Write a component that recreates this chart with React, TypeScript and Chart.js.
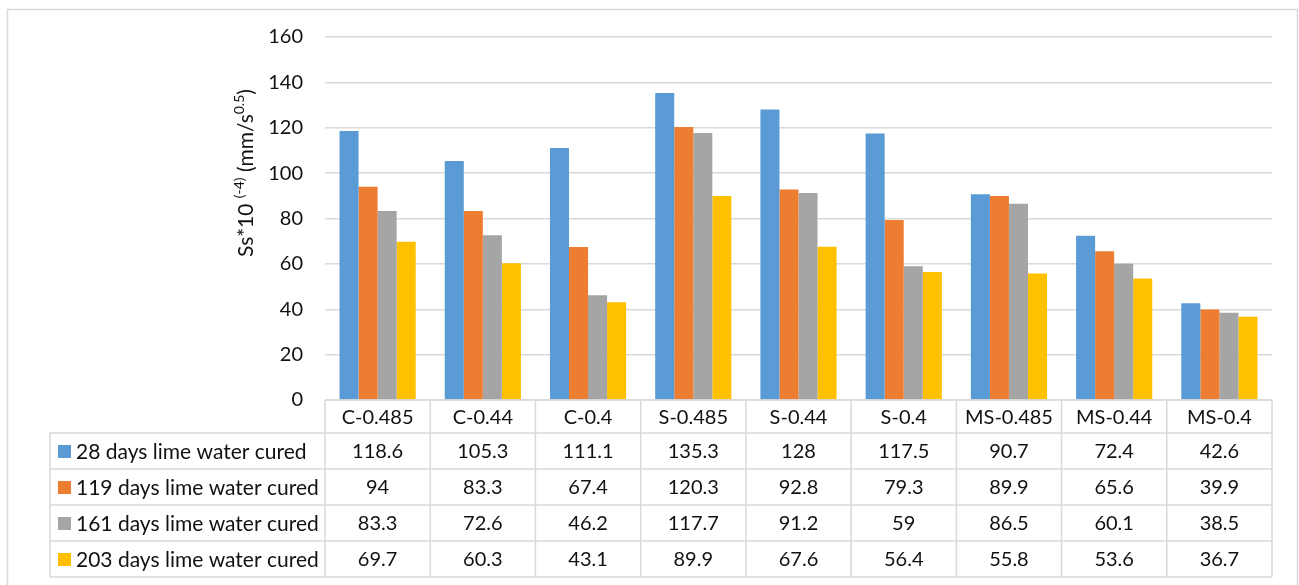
import React, { useEffect, useRef } from "react";
import { Chart, registerables } from "chart.js";

Chart.register(...registerables);

const categories = ["C-0.485", "C-0.44", "C-0.4", "S-0.485", "S-0.44", "S-0.4", "MS-0.485", "MS-0.44", "MS-0.4"];
const seriesNames = [
  "28 days lime water cured",
  "119 days lime water cured",
  "161 days lime water cured",
  "203 days lime water cured",
];
const days28 = [118.6, 105.3, 111.1, 135.3, 128, 117.5, 90.7, 72.4, 42.6];
const days119 = [94, 83.3, 67.4, 120.3, 92.8, 79.3, 89.9, 65.6, 39.9];
const days161 = [83.3, 72.6, 46.2, 117.7, 91.2, 59, 86.5, 60.1, 38.5];
const days203 = [69.7, 60.3, 43.1, 89.9, 67.6, 56.4, 55.8, 53.6, 36.7];
const seriesColors = ["#5B9BD5", "#ED7D31", "#A5A5A5", "#FFC000"];
const yTicks = [0, 20, 40, 60, 80, 100, 120, 140, 160];

const FONT = "Lato, 'Liberation Sans', sans-serif";
const TEXT = "#111111";
const LINE = "#d9d9d9";

const tablePlugin = {
  id: "dataTable",
  afterDraw(chart: any) {
    const ctx = chart.ctx as CanvasRenderingContext2D;
    const x = chart.scales.x;
    const area = chart.chartArea;
    const n = categories.length;
    const step = (x.getPixelForValue(n - 1) - x.getPixelForValue(0)) / (n - 1);
    const left = x.getPixelForValue(0) - step / 2;
    const right = x.getPixelForValue(n - 1) + step / 2;
    const top = area.bottom;
    const headerBottom = top + 33;
    const rowH = 36;
    const bottom = headerBottom + rowH * 4;
    const legendLeft = 50;
    const all = [days28, days119, days161, days203];

    ctx.save();
    ctx.strokeStyle = LINE;
    ctx.lineWidth = 1.5;
    ctx.strokeRect(7.5, 9.5, 1290, 582);

    ctx.beginPath();
    ctx.moveTo(left, top);
    ctx.lineTo(right, top);
    for (let r = 0; r <= 4; r++) {
      const yy = headerBottom + r * rowH;
      ctx.moveTo(legendLeft, yy);
      ctx.lineTo(right, yy);
    }
    for (let i = 0; i <= n; i++) {
      const xx = left + i * step;
      ctx.moveTo(xx, top);
      ctx.lineTo(xx, bottom);
    }
    ctx.moveTo(legendLeft, headerBottom);
    ctx.lineTo(legendLeft, bottom);
    ctx.stroke();

    ctx.fillStyle = TEXT;
    ctx.font = `20px ${FONT}`;
    ctx.textBaseline = "middle";
    ctx.textAlign = "center";
    categories.forEach((c, i) => {
      ctx.fillText(c, x.getPixelForValue(i), (top + headerBottom) / 2 + 1);
    });
    all.forEach((vals, r) => {
      const cy = headerBottom + r * rowH + rowH / 2 + 1;
      ctx.textAlign = "center";
      ctx.fillStyle = TEXT;
      ctx.font = `20px ${FONT}`;
      vals.forEach((v, i) => {
        ctx.fillText(String(v), x.getPixelForValue(i), cy);
      });
      ctx.fillStyle = seriesColors[r];
      ctx.fillRect(58, cy - 7, 13, 13);
      ctx.fillStyle = TEXT;
      ctx.textAlign = "left";
      ctx.font = `21px ${FONT}`;
      ctx.fillText(seriesNames[r], 76, cy);
    });

    // y-axis title with superscripts
    ctx.save();
    ctx.translate(246, 173);
    ctx.rotate(-Math.PI / 2);
    const parts: [string, boolean][] = [
      ["Ss*10 ", false],
      ["(-4)", true],
      [" (mm/s", false],
      ["0.5", true],
      [")", false],
    ];
    const big = `21px ${FONT}`;
    const small = `14px ${FONT}`;
    let total = 0;
    parts.forEach(([t, s]) => {
      ctx.font = s ? small : big;
      total += ctx.measureText(t).width;
    });
    let px = -total / 2;
    ctx.textAlign = "left";
    ctx.textBaseline = "alphabetic";
    ctx.fillStyle = TEXT;
    parts.forEach(([t, s]) => {
      ctx.font = s ? small : big;
      ctx.fillText(t, px, s ? -2 : 7);
      px += ctx.measureText(t).width;
    });
    ctx.restore();
    ctx.restore();
  },
};

export default function App() {
  const ref = useRef<HTMLCanvasElement>(null);
  useEffect(() => {
    if (!ref.current) return;
    const chart = new Chart(ref.current, {
      type: "bar",
      data: {
        labels: categories,
        datasets: [days28, days119, days161, days203].map((d, i) => ({
          label: seriesNames[i],
          data: d,
          backgroundColor: seriesColors[i],
          borderWidth: 0,
          barPercentage: 1,
          categoryPercentage: 0.724,
        })),
      },
      options: {
        animation: false,
        responsive: false,
        maintainAspectRatio: false,
        layout: { padding: { left: 0, right: 27, top: 37, bottom: 0 } },
        plugins: { legend: { display: false }, tooltip: { enabled: false } },
        scales: {
          x: {
            grid: { display: false },
            border: { display: false },
            ticks: { display: false },
            afterFit: (s: any) => {
              s.height = 185;
            },
          },
          y: {
            min: 0,
            max: 160,
            afterBuildTicks: (s: any) => {
              s.ticks = yTicks.map((v) => ({ value: v }));
            },
            grid: { color: LINE, lineWidth: 1.5, drawTicks: false },
            border: { display: false },
            ticks: {
              color: TEXT,
              font: { family: FONT, size: 20 },
              padding: 22,
            },
            afterFit: (s: any) => {
              s.width = 325;
            },
          },
        },
      },
      plugins: [tablePlugin],
    });
    return () => chart.destroy();
  }, []);
  return (
    <div style={{ position: "absolute", left: 0, top: 0, width: 1299, height: 585, background: "#fff" }}>
      <canvas ref={ref} width={1299} height={585} style={{ width: 1299, height: 585 }} />
    </div>
  );
}
